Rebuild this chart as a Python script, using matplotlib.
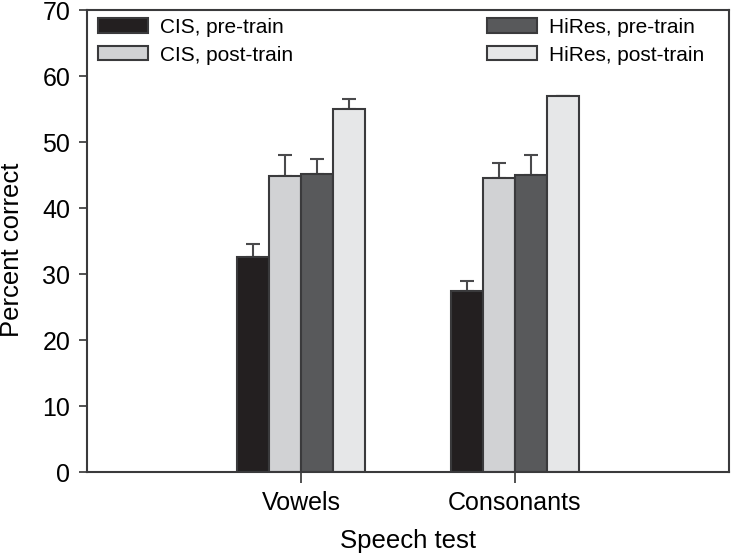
import numpy as np
import matplotlib
matplotlib.use('Agg')
import matplotlib.pyplot as plt

plt.rcParams['font.family'] = ['Liberation Sans', 'DejaVu Sans']

tests = ['Vowels', 'Consonants']
labels = ['CIS, pre-train', 'CIS, post-train', 'HiRes, pre-train', 'HiRes, post-train']
means = [
    [32.6, 27.5],   # CIS pre
    [44.9, 44.6],   # CIS post
    [45.2, 45.0],   # HiRes pre
    [55.0, 56.9],   # HiRes post
]
errs = [
    [2.0, 1.4],
    [3.2, 2.2],
    [2.2, 3.1],
    [1.5, 0.1],
]
colors = ['#231f20', '#d1d2d4', '#58595b', '#e6e7e8']

fig = plt.figure(figsize=(7.31, 5.57), dpi=100)
ax = fig.add_axes([0.119, 0.1526, 0.878, 0.8294])

x = np.arange(1, len(tests) + 1)
w = 0.15
edge = '#3a3a3c'
for i, (m, e, c, lab) in enumerate(zip(means, errs, colors, labels)):
    pos = x + (i - 1.5) * w
    ax.bar(pos, m, w, color=c, edgecolor=edge, linewidth=1.5, label=lab, zorder=2)
    ax.errorbar(pos, m, yerr=[np.zeros(len(e)), e], fmt='none', ecolor='#4a4a4c',
                elinewidth=1.5, capsize=4.7, capthick=1.5, zorder=1)

ax.set_xlim(0, 3)
ax.set_ylim(0, 70)
ax.set_xticks(x)
ax.set_xticklabels(tests)
ax.set_yticks(range(0, 71, 10))
ax.tick_params(axis='y', direction='out', length=6, width=1.2, color='#333333',
               labelsize=18, pad=6)
ax.tick_params(axis='x', direction='out', length=8, width=1.2, color='#333333',
               labelsize=18, pad=6)
for s in ax.spines.values():
    s.set_linewidth(1.5)
    s.set_color('#3a3a3c')

ax.set_ylabel('Percent correct', fontsize=18.5)
ax.yaxis.set_label_coords(-0.098, 0.48)
ax.set_xlabel('Speech test', fontsize=18.5, labelpad=10)

ax.legend(ncol=2, loc='upper left', bbox_to_anchor=(0.0171, 0.983), frameon=False,
          fontsize=15, handlelength=2.4, handleheight=0.67, handletextpad=0.58,
          columnspacing=9.3, labelspacing=0.42, borderpad=0, borderaxespad=0)

fig.savefig('out.png', dpi=100)
